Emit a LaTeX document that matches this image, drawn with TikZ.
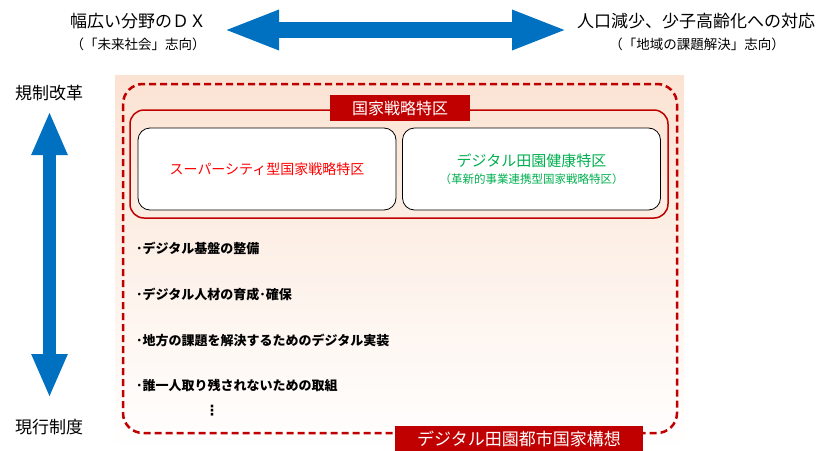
\documentclass[tikz,border=0pt]{standalone}
\usepackage{fontspec}
\setmainfont{Noto Sans CJK JP}
\newfontfamily\symfont{DejaVu Sans}
\usetikzlibrary{arrows.meta,positioning}
\definecolor{zonered}{HTML}{C00000}
\definecolor{arrowblue}{HTML}{0070C0}
\definecolor{superred}{HTML}{FF0000}
\definecolor{healthgreen}{HTML}{00B050}
\definecolor{bgpeach}{HTML}{FBE3D3}

\begin{document}
\begin{tikzpicture}[
  x=1pt, y=-1pt,
  title/.style={font=\fontsize{17}{20}\selectfont, inner sep=0pt},
  subtitle/.style={font=\fontsize{13.5}{16}\selectfont, inner sep=0pt},
  bigarrow/.style={draw=arrowblue, line width=16pt, {Triangle[length=56pt,width=36pt]}-{Triangle[length=56pt,width=36pt]}},
  tallarrow/.style={draw=arrowblue, line width=13pt, {Triangle[length=44pt,width=33pt]}-{Triangle[length=44pt,width=33pt]}},
  redtag/.style={fill=zonered, text=white, inner sep=0pt, minimum height=26pt},
  zonebox/.style={draw=black, line width=0.8pt, fill=white, rounded corners=12pt, minimum width=258pt, minimum height=82pt, align=center, inner sep=0pt},
  item/.style={anchor=west, font=\bfseries\fontsize{13}{15}\selectfont, inner sep=0pt}
]
  \useasboundingbox (0,0) rectangle (824,450);
  % background and frames
  \shade[top color=bgpeach, bottom color=white] (115,75) rectangle (684,450);
  \draw[zonered, line width=2.5pt, dash pattern=on 7pt off 4pt, rounded corners=20pt] (123,84) rectangle (677,433);
  \draw[zonered, line width=1.5pt, rounded corners=14pt] (130,110) rectangle (668,218);

  % axis titles
  \node[title] (dxtitle) at (138,21) {幅広い分野のＤＸ};
  \node[subtitle] (dxsub) at (138,44) {（「未来社会」志向）};
  \node[title] (poptitle) at (696,21) {人口減少、少子高齢化への対応};
  \node[subtitle] (popsub) at (697,44) {（「地域の課題解決」志向）};
  \node[title] (reform) at (49,93) {規制改革};
  \node[title] (current) at (49,427) {現行制度};

  \coordinate (hleft) at (223,30);
  \coordinate (hright) at (568,30);
  \coordinate (vtop) at (49.5,111);
  \coordinate (vbottom) at (49.5,398);
  \draw[bigarrow] (hleft) -- (hright);
  \draw[tallarrow] (vtop) -- (vbottom);

  % special zones
  \node[redtag, minimum width=140pt, font=\fontsize{16}{18}\selectfont] (nsz) at (400,108) {国家戦略特区};
  \node[zonebox, text=superred, font=\fontsize{14}{17}\selectfont] (supercity) at (267,169) {スーパーシティ型国家戦略特区};
  \node[zonebox, text=healthgreen, font=\fontsize{15}{18}\selectfont] (health) at (531.5,169) {デジタル田園健康特区\\[-1pt]{\fontsize{11.5}{14}\selectfont （革新的事業連携型国家戦略特区）}};

  % measures
  \node[item] (infra) at (136,248) {･デジタル基盤の整備};
  \node[item] (talent) at (136,295) {･デジタル人材の育成･確保};
  \node[item] (local) at (136,340) {･地方の課題を解決するためのデジタル実装};
  \node[item] (inclusion) at (136,385) {･誰一人取り残されないための取組};
  \node[item, anchor=center, font=\symfont\bfseries\fontsize{14}{16}\selectfont] (more) at (212,411) {⋮};

  \node[redtag, minimum width=248pt, minimum height=26pt, font=\fontsize{17}{20}\selectfont] (vision) at (519,439) {デジタル田園都市国家構想};
\end{tikzpicture}
\end{document}
